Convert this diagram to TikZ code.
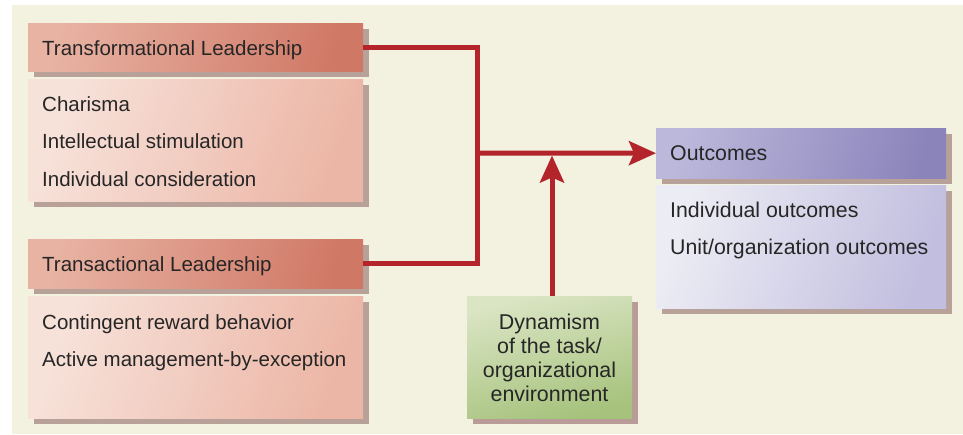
\documentclass[tikz,border=0pt]{standalone}
\usepackage{fontspec}
\setmainfont{Liberation Sans}
\usetikzlibrary{arrows.meta,shadows}

\definecolor{bgc}{HTML}{F3F1E0}
\definecolor{textc}{HTML}{262626}
\definecolor{linkc}{HTML}{B3252A}
\definecolor{shadowc}{HTML}{B8A199}
\definecolor{gshadowc}{HTML}{B99C97}
\definecolor{redA}{HTML}{E8B3A3}
\definecolor{redB}{HTML}{D07866}
\definecolor{pinkA}{HTML}{F7E2DA}
\definecolor{pinkB}{HTML}{ECB6A6}
\definecolor{purA}{HTML}{BCB8DB}
\definecolor{purB}{HTML}{8B84BB}
\definecolor{lavA}{HTML}{ECECF4}
\definecolor{lavB}{HTML}{C2BEDF}
\definecolor{grnA}{HTML}{DAE5C4}
\definecolor{grnB}{HTML}{A6C27C}

\begin{document}
\begin{tikzpicture}[x=1pt,y=-1pt,
  box/.style={rectangle, inner sep=0pt, draw=none, anchor=north west,
    general shadow={fill=shadowc, shadow xshift=5.5pt, shadow yshift=-5.5pt}},
  redhead/.style={box, left color=redA, right color=redB, shading angle=75},
  redbody/.style={box, left color=pinkA, right color=pinkB, shading angle=70},
  purhead/.style={box, left color=purA, right color=purB, shading angle=75},
  purbody/.style={box, left color=lavA, right color=lavB, shading angle=70},
  grnbox/.style={box, top color=grnA, bottom color=grnB, shading angle=15,
    general shadow={fill=gshadowc, shadow xshift=5.5pt, shadow yshift=-6pt}},
  txt/.style={font=\fontsize{20.5}{24}\selectfont, text=textc, inner sep=0pt, anchor=base west},
  rtxt/.style={txt, font=\fontsize{21.3}{24}\selectfont},
  ctxt/.style={txt, font=\fontsize{21.4}{24}\selectfont, anchor=base},
  link/.style={draw=linkc, line width=5pt},
  tip/.style={-{Stealth[length=27pt,width=24pt,inset=5pt]}}
]
\useasboundingbox (0,0) rectangle (963,434);
\fill[bgc] (12,5) rectangle (963,434);

% left column: transformational
\node[redhead, minimum width=335pt, minimum height=48pt] (th) at (28,23) {};
\node[redbody, minimum width=335pt, minimum height=122pt] (tb) at (28,79) {};
% left column: transactional
\node[redhead, minimum width=335pt, minimum height=49pt] (ah) at (28,239) {};
\node[redbody, minimum width=335pt, minimum height=122pt] (ab) at (28,296) {};
% outcomes
\node[purhead, minimum width=290pt, minimum height=50pt] (oh) at (656,128) {};
\node[purbody, minimum width=290pt, minimum height=123pt] (ob) at (656,185) {};
% moderator
\node[grnbox, minimum width=165pt, minimum height=122pt] (gr) at (467,296) {};

% texts
\node[txt] (t1) at (42,55) {Transformational Leadership};
\node[txt] (t2) at (42,111) {Charisma};
\node[txt] (t3) at (42,148) {Intellectual stimulation};
\node[txt] (t4) at (42,186) {Individual consideration};
\node[txt] (a1) at (42,271.5) {Transactional Leadership};
\node[txt] (a2) at (42,329) {Contingent reward behavior};
\node[txt] (a3) at (42,366) {Active management-by-exception};
\node[rtxt] (o1) at (670,160) {Outcomes};
\node[rtxt] (o2) at (670,217) {Individual outcomes};
\node[rtxt] (o3) at (670,254) {Unit/organization outcomes};
\node[ctxt] (g1) at (549.5,329) {Dynamism};
\node[ctxt] (g2) at (549.5,353) {of the task/};
\node[ctxt] (g3) at (549.5,377) {organizational};
\node[ctxt] (g4) at (549.5,401) {environment};

% connectors
\coordinate (j) at (477,153);
\coordinate (k) at (552,155.5);
\draw[link] (th.east) -| (j) |- (ah.east);
\draw[link,tip] (j) -- (oh.west);
\draw[link,tip] (k |- gr.north) -- (k);
\end{tikzpicture}
\end{document}
